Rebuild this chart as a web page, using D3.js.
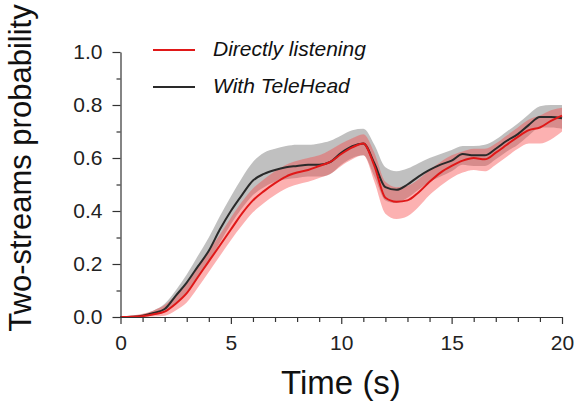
<!DOCTYPE html>
<html>
<head>
<meta charset="utf-8">
<script src="https://cdn.jsdelivr.net/npm/d3@7"></script>
<style>
  body { margin: 0; background: #fff; }
  svg { display: block; }
</style>
</head>
<body>
<div id="chart"></div>
<script>
// temps (s)
const times = [0, 0.5, 1, 1.5, 2, 2.5, 3, 3.5, 4, 4.5, 5, 5.5, 6, 6.5, 7, 7.5, 8, 8.5, 9, 9.5,
    10, 10.5, 11, 11.5, 12, 12.5, 13, 13.5, 14, 14.5, 15, 15.5, 16, 16.5, 17, 17.5, 18, 18.5, 19, 19.5, 20];

// Directly listening : moyenne et bande d'erreur
const directMean = [0, 0.001, 0.003, 0.01, 0.02, 0.05, 0.09, 0.15, 0.21, 0.27, 0.33, 0.39, 0.44, 0.475, 0.505, 0.53, 0.545, 0.555, 0.57, 0.585,
    0.615, 0.64, 0.655, 0.57, 0.45, 0.435, 0.44, 0.47, 0.51, 0.545, 0.57, 0.59, 0.60, 0.595, 0.62, 0.65, 0.68, 0.705, 0.715, 0.74, 0.76];
const directHigh = [0.002, 0.005, 0.012, 0.025, 0.045, 0.08, 0.125, 0.19, 0.25, 0.31, 0.375, 0.435, 0.485, 0.52, 0.55, 0.575, 0.59, 0.60, 0.61, 0.63,
    0.655, 0.675, 0.69, 0.62, 0.51, 0.49, 0.495, 0.52, 0.555, 0.585, 0.61, 0.625, 0.635, 0.635, 0.655, 0.685, 0.715, 0.745, 0.76, 0.78, 0.79];
const directLow = [0, 0, 0, 0.002, 0.005, 0.025, 0.055, 0.11, 0.17, 0.23, 0.29, 0.345, 0.395, 0.43, 0.46, 0.485, 0.50, 0.51, 0.525, 0.54,
    0.57, 0.595, 0.61, 0.51, 0.39, 0.37, 0.38, 0.415, 0.46, 0.495, 0.525, 0.545, 0.555, 0.55, 0.575, 0.605, 0.635, 0.655, 0.655, 0.67, 0.70];

// With TeleHead : moyenne et bande d'erreur
const teleMean = [0, 0.001, 0.005, 0.015, 0.03, 0.08, 0.13, 0.19, 0.25, 0.33, 0.40, 0.46, 0.515, 0.54, 0.555, 0.565, 0.57, 0.575, 0.575, 0.585,
    0.62, 0.645, 0.655, 0.58, 0.49, 0.48, 0.50, 0.53, 0.555, 0.575, 0.59, 0.615, 0.61, 0.61, 0.635, 0.665, 0.69, 0.725, 0.755, 0.755, 0.75];
const teleHigh = [0, 0.003, 0.01, 0.025, 0.05, 0.10, 0.16, 0.23, 0.30, 0.38, 0.455, 0.525, 0.585, 0.62, 0.635, 0.645, 0.65, 0.65, 0.655, 0.665,
    0.685, 0.705, 0.71, 0.65, 0.565, 0.55, 0.56, 0.58, 0.60, 0.615, 0.63, 0.645, 0.645, 0.65, 0.67, 0.70, 0.73, 0.765, 0.795, 0.80, 0.80];
const teleLow = [0, 0, 0.001, 0.007, 0.018, 0.05, 0.095, 0.15, 0.21, 0.28, 0.35, 0.41, 0.46, 0.49, 0.51, 0.52, 0.525, 0.53, 0.53, 0.54,
    0.575, 0.60, 0.61, 0.53, 0.44, 0.43, 0.45, 0.48, 0.51, 0.53, 0.55, 0.575, 0.57, 0.57, 0.595, 0.625, 0.65, 0.685, 0.715, 0.715, 0.71];

const legendLabels = ["Directly listening", "With TeleHead"];
const yTicks = [0, 0.2, 0.4, 0.6, 0.8, 1.0];
const yMinorTicks = [0.1, 0.3, 0.5, 0.7, 0.9];
const xTicks = [0, 5, 10, 15, 20];
const xMinorTicks = [1, 2, 3, 4, 6, 7, 8, 9, 11, 12, 13, 14, 16, 17, 18, 19];

const width = 574;
const height = 405;
const marginTop = 52;
const marginRight = 12;
const marginBottom = 88;
const marginLeft = 120;
const font = "'Liberation Sans', Arial, sans-serif";

const x = d3.scaleLinear()
    .domain([0, 20])
    .range([marginLeft + 0.5, width - marginRight]);

const y = d3.scaleLinear()
    .domain([0, 1])
    .range([height - marginBottom, marginTop]);

const svg = d3.select("#chart").append("svg")
    .attr("width", width)
    .attr("height", height)
    .attr("viewBox", [0, 0, width, height])
    .style("font-family", font);

const rows = times.map((t, i) => ({
    t,
    dm: directMean[i], dh: directHigh[i], dl: directLow[i],
    tm: teleMean[i], th: teleHigh[i], tl: teleLow[i]
}));

const curve = d3.curveMonotoneX;

// bandes d'erreur
svg.append("path")
    .datum(rows)
    .attr("fill", "rgba(140,140,140,0.55)")
    .attr("d", d3.area().curve(curve).x(d => x(d.t)).y0(d => y(d.tl)).y1(d => y(d.th)));

svg.append("path")
    .datum(rows)
    .attr("fill", "rgba(248,70,70,0.42)")
    .attr("d", d3.area().curve(curve).x(d => x(d.t)).y0(d => y(d.dl)).y1(d => y(d.dh)));

// courbes moyennes
svg.append("path")
    .datum(rows)
    .attr("fill", "none")
    .attr("stroke", "#2a2a2a")
    .attr("stroke-width", 2)
    .attr("d", d3.line().curve(curve).x(d => x(d.t)).y(d => y(d.tm)));

svg.append("path")
    .datum(rows)
    .attr("fill", "none")
    .attr("stroke", "#e01818")
    .attr("stroke-width", 2)
    .attr("d", d3.line().curve(curve).x(d => x(d.t)).y(d => y(d.dm)));

// axe x
const gx = svg.append("g")
    .attr("transform", `translate(0,${height - marginBottom})`);
gx.call(d3.axisBottom(x).tickValues(xTicks).tickSize(7).tickSizeOuter(0).tickPadding(11));
gx.append("g").call(d3.axisBottom(x).tickValues(xMinorTicks).tickSize(5).tickFormat(""))
    .select(".domain").remove();

// axe y
const gy = svg.append("g")
    .attr("transform", `translate(${x(0)},0)`);
gy.call(d3.axisLeft(y).tickValues(yTicks).tickFormat(d3.format(".1f")).tickSize(8).tickSizeOuter(0).tickPadding(10));
gy.append("g").call(d3.axisLeft(y).tickValues(yMinorTicks).tickSize(4).tickFormat(""))
    .select(".domain").remove();

svg.selectAll(".tick text")
    .attr("font-family", font)
    .attr("font-size", 21)
    .attr("fill", "#222");
svg.selectAll(".domain, .tick line")
    .attr("stroke", "#333")
    .attr("stroke-width", 1.2);

// titres des axes
svg.append("text")
    .attr("x", 341)
    .attr("y", 394)
    .attr("text-anchor", "middle")
    .attr("font-size", 33)
    .attr("fill", "#111")
    .text("Time (s)");

svg.append("text")
    .attr("transform", "rotate(-90)")
    .attr("x", -168)
    .attr("y", 31)
    .attr("text-anchor", "middle")
    .attr("font-size", 31)
    .attr("fill", "#111")
    .text("Two-streams probability");

// légende
const legendColors = ["#e01818", "#2a2a2a"];
const legend = svg.append("g")
    .attr("transform", "translate(153,50)");

const legends = legend.selectAll(".legend")
    .data(legendLabels)
    .enter().append("g")
    .attr("class", "legend")
    .attr("transform", (d, i) => `translate(0,${i * 37})`);

legends.append("line")
    .attr("x1", 0)
    .attr("x2", 42)
    .attr("stroke", (d, i) => legendColors[i])
    .attr("stroke-width", 2);

legends.append("text")
    .attr("x", 60)
    .attr("y", 6)
    .attr("font-size", 21)
    .attr("font-style", "italic")
    .attr("fill", "#111")
    .text(d => d);
</script>
</body>
</html>
